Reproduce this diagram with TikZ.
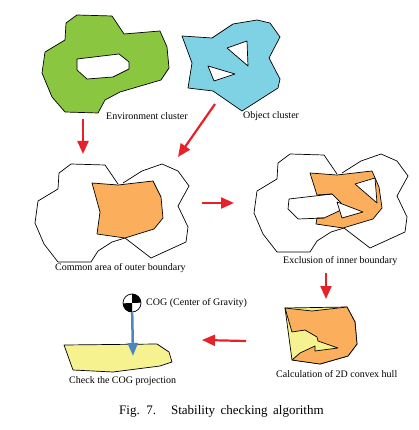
\documentclass[tikz,border=0pt]{standalone}
\usepackage{fontspec}
\setmainfont{Liberation Serif}
\usetikzlibrary{arrows.meta}
\definecolor{envgreen}{HTML}{8AC640}
\definecolor{objblue}{HTML}{7FD2E4}
\definecolor{areaorange}{HTML}{FBAE5C}
\definecolor{hullyellow}{HTML}{F6F290}
\definecolor{flowred}{HTML}{E62129}
\definecolor{cogblue}{HTML}{4F86C0}

\begin{document}
\begin{tikzpicture}[x=1pt, y=-1pt,
    outline/.style={line width=0.7pt, black, line join=round},
    flow/.style={line width=2.2pt, flowred, -{Triangle[length=13pt, width=11pt]}},
    lbl/.style={font=\fontsize{10}{12}\selectfont, inner sep=0pt, anchor=west}]
  \useasboundingbox (0,0) rectangle (418,430);
  % \outerenv{dx}{dy}, \outerobj{dx}{dy}: the two outer boundaries, shifted
  \newcommand{\outerenv}[2]{%
    \draw[outline, shift={(#1,#2)}] (118,184) -- (105,165) -- (71,164) -- (59,173) -- (58,189) -- (38,201)
      -- (35,223) -- (44,244) -- (58,262) -- (91,262) -- (98,251) -- (112,242) -- (125,238);}
  \newcommand{\outerobj}[2]{%
    \draw[outline, shift={(#1,#2)}] (123,183) -- (142,171) -- (162,164) -- (178,171) -- (189,186) -- (178,206)
      -- (188,227) -- (186,242) -- (151,258) -- (125,238);}
  % ---------------- environment cluster ----------------
  \draw[outline, fill=envgreen, even odd rule]
    (77,15) -- (112,16) -- (124,34) -- (160,31) -- (167,47) -- (169,68) -- (161,80) -- (120,92)
    -- (105,100) -- (98,113) -- (65,112) -- (52,97) -- (42,73) -- (45,52) -- (65,40) -- (66,23) -- cycle
    (77,59) -- (119,54) -- (129,62) -- (129,69) -- (113,77) -- (87,79) -- (77,70) -- cycle;
  \node[lbl] (envlabel) at (106,116) {Environment cluster};
  % ---------------- object cluster ----------------
  \draw[outline, fill=objblue, even odd rule]
    (182,36) -- (212,38) -- (233,24) -- (257,20) -- (270,23) -- (280,37) -- (269,58) -- (280,79)
    -- (278,88) -- (242,111) -- (213,91) -- (188,88) -- (192,63) -- cycle
    (227,48) -- (247,41) -- (248,66) -- cycle
    (208,66) -- (235,74) -- (214,81) -- cycle;
  \node[lbl] (objlabel) at (243,116) {Object cluster};
  % ---------------- common area ----------------
  \outerenv{0}{0}
  \outerobj{0}{0}
  \draw[outline, fill=areaorange] (92,183) -- (118,185) -- (153,181) -- (161,197) -- (163,218)
    -- (154,229) -- (125,238) -- (97,234) -- (100,212) -- cycle;
  \node[lbl] (commonlabel) at (55,268) {Common area of outer boundary};
  % ---------------- exclusion of inner boundary ----------------
  \outerenv{219}{-10}
  \outerobj{219}{-10}
  \draw[outline, fill=areaorange] (310,173) -- (337,175) -- (372,171) -- (379,187) -- (382,208)
    -- (373,219) -- (343,228) -- (316,224) -- (317,218) -- (324,218) -- (339,211) -- (342,207)
    -- (341,203) -- (332,194) -- (317,195) -- cycle;
  \draw[outline, fill=white] (355,184) -- (375,178) -- (377,203) -- cycle;
  \draw[outline, fill=white] (337,202) -- (363,212) -- (342,218) -- cycle;
  \draw[outline] (332,194) -- (289,199) -- (288,209) -- (298,219) -- (324,218);
  \node[lbl] (exclabel) at (283,261) {Exclusion of inner boundary};
  % ---------------- 2D convex hull ----------------
  \draw[outline, fill=hullyellow] (285,308) -- (347,307) -- (355,322) -- (357,344) -- (348,356)
    -- (320,364) -- (292,360) -- cycle;
  \draw[outline, fill=areaorange] (285,308) -- (312,311) -- (347,307) -- (355,322) -- (357,344) -- (348,356)
    -- (320,364) -- (292,360) -- (300,353) -- (315,346) -- (315,351) -- (338,348) -- (318,341)
    -- (317,337) -- (305,330) -- (292,332) -- cycle;
  \node[lbl] (hulllabel) at (276,374) {Calculation of 2D convex hull};
  % ---------------- COG projection ----------------
  \draw[outline, fill=hullyellow] (64,345) -- (157,344) -- (169,352) -- (172,362) -- (160,366)
    -- (113,372) -- (73,370) -- cycle;
  \node[circle, draw=black, line width=0.7pt, fill=white, minimum size=18pt, inner sep=0pt] (cog) at (132,303) {};
  \fill[black] (cog.center) -- (cog.north) arc[start angle=-90, end angle=0, radius=9] -- cycle;
  \fill[black] (cog.center) -- (cog.south) arc[start angle=90, end angle=180, radius=9] -- cycle;
  \coordinate (cogfoot) at (133,356);
  \draw[line width=2.5pt, cogblue, -{Triangle[length=13pt, width=10pt]}] (cog) -- (cogfoot);
  \node[lbl] (coglabel) at (146,303) {COG (Center of Gravity)};
  \node[lbl] (checklabel) at (69,381) {Check the COG projection};
  % ---------------- flow arrows ----------------
  \coordinate (a1) at (83,119);  \coordinate (b1) at (83,154);
  \coordinate (a2) at (215,104); \coordinate (b2) at (178,157);
  \coordinate (a3) at (202,203); \coordinate (b3) at (234,203);
  \coordinate (a4) at (326,273); \coordinate (b4) at (326,299);
  \coordinate (a5) at (246,341); \coordinate (b5) at (202,340);
  \foreach \i in {1,...,5} \draw[flow] (a\i) -- (b\i);
  % ---------------- caption ----------------
  \node[lbl, font=\fontsize{13}{15}\selectfont] (figlabel) at (119,411) {\spaceskip=5.5pt\relax Fig. 7.\hspace{15pt}Stability checking algorithm};
\end{tikzpicture}
\end{document}
